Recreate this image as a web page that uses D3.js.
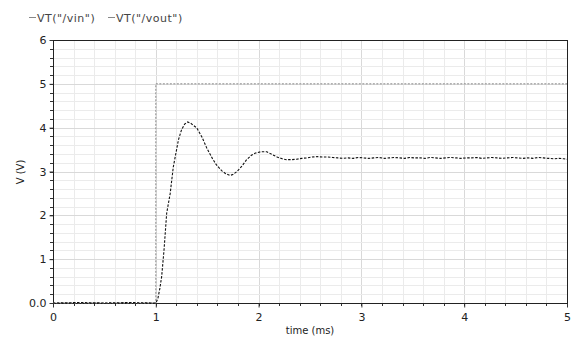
<!DOCTYPE html>
<html><head><meta charset="utf-8">
<script src="https://cdn.jsdelivr.net/npm/d3@7"></script>
<style>body{margin:0;background:#fff}svg{display:block}text{font-family:"DejaVu Sans",Verdana,sans-serif}</style>
</head><body><svg id="c" width="572" height="339"></svg>
<script>
const seriesNames = ['VT("/vin")', 'VT("/vout")'];
const xTicks = [0, 1, 2, 3, 4, 5];
const yTicks = [0, 1, 2, 3, 4, 5, 6];
const yTickLabels = ["0.0", "1", "2", "3", "4", "5", "6"];
const vinT = [0, 1.0, 1.0, 5];
const vinV = [0, 0, 5, 5];
const voutT = [0,0.25,0.5,0.75,1.0,1.02,1.04,1.057,1.08,1.106,1.14,1.17,1.22,1.25,1.28,1.31,1.34,1.40,1.45,1.495,1.55,1.59,1.64,1.68,1.72,1.75,1.79,1.84,1.88,1.93,1.97,2.02,2.08,2.13,2.18,2.23,2.27,2.32,2.37,2.42,2.47,2.52,2.57,2.62,2.67,2.72,2.77,2.82,
 2.87,2.92,2.97,3.02,3.07,3.12,3.17,3.22,3.27,3.32,3.37,3.42,3.47,3.52,3.57,3.62,3.67,3.72,3.77,3.82,3.87,3.92,3.97,4.02,4.07,4.12,4.17,4.22,4.27,4.32,4.37,4.42,4.47,4.52,4.57,4.62,4.67,4.72,4.77,4.82,4.87,4.92,4.97,5.0];
const voutV = [0,0.01,0,0.01,0,0.1,0.34,0.6,1.21,2.05,2.5,3.1,3.72,3.95,4.08,4.13,4.1,3.99,3.78,3.54,3.3,3.15,3.02,2.95,2.91,2.93,3.0,3.13,3.26,3.37,3.42,3.45,3.45,3.39,3.33,3.29,3.27,3.27,3.28,3.30,3.31,3.33,3.34,3.33,3.33,3.32,3.31,3.30,
 3.31,3.30,3.32,3.31,3.30,3.31,3.32,3.30,3.31,3.32,3.31,3.30,3.32,3.31,3.31,3.30,3.32,3.31,3.30,3.31,3.32,3.31,3.30,3.31,3.31,3.32,3.30,3.31,3.32,3.31,3.30,3.31,3.32,3.31,3.30,3.31,3.30,3.32,3.31,3.30,3.29,3.30,3.29,3.28];

const svg = d3.select("#c");
const L = 53, R = 567, T = 40, B = 303;
const x = d3.scaleLinear().domain([0, 5]).range([L, R]);
const y = d3.scaleLinear().domain([0, 6]).range([B, T]);
const xMinor = d3.range(0, 5.001, 0.2);
const yMinor = d3.range(0, 6.001, 0.2);

const g = svg.append("g");
g.selectAll(".vx").data(xMinor).join("line")
  .attr("x1", d => Math.round(x(d)) + 0.5).attr("x2", d => Math.round(x(d)) + 0.5)
  .attr("y1", T).attr("y2", B).attr("stroke", (d) => Math.abs(d - Math.round(d)) < 1e-6 ? "#d9d9d9" : "#ebebeb");
g.selectAll(".hy").data(yMinor).join("line")
  .attr("y1", d => Math.round(y(d)) + 0.5).attr("y2", d => Math.round(y(d)) + 0.5)
  .attr("x1", L).attr("x2", R).attr("stroke", (d) => Math.abs(d - Math.round(d)) < 1e-6 ? "#d9d9d9" : "#ebebeb");

// minor ticks
g.selectAll(".mtx").data(xMinor).join("line")
  .attr("x1", d => Math.round(x(d)) + 0.5).attr("x2", d => Math.round(x(d)) + 0.5)
  .attr("y1", B).attr("y2", B + 3).attr("stroke", "#333");
g.selectAll(".mty").data(yMinor).join("line")
  .attr("y1", d => Math.round(y(d)) + 0.5).attr("y2", d => Math.round(y(d)) + 0.5)
  .attr("x1", L - 3).attr("x2", L).attr("stroke", "#333");

const xAxis = svg.append("g").attr("transform", `translate(0,${B + 0.5})`)
  .call(d3.axisBottom(x).tickValues(xTicks).tickFormat(d3.format("d")).tickSize(4).tickPadding(6));
const yAxis = svg.append("g").attr("transform", `translate(${L + 0.5},0)`)
  .call(d3.axisLeft(y).tickValues(yTicks).tickFormat((d, i) => yTickLabels[i]).tickSize(4).tickPadding(3));
[xAxis, yAxis].forEach(a => {
  a.select(".domain").remove();
  a.selectAll("text").attr("font-size", 11).attr("fill", "#222").style("font-family", '"DejaVu Sans",Verdana,sans-serif');
  a.selectAll("line").attr("stroke", "#333");
});
// frame
svg.append("rect").attr("x", L + 0.5).attr("y", T + 0.5).attr("width", R - L).attr("height", B - T)
  .attr("fill", "none").attr("stroke", "#222");

const line = d3.line().x(d => x(d[0])).y(d => y(d[1]));
const vin = vinT.map((t, i) => [t, vinV[i]]);
const vout = voutT.map((t, i) => [t, voutV[i]]);
svg.append("path").attr("d", line(vin)).attr("fill", "none").attr("stroke", "#8a8a8a")
  .attr("stroke-width", 1).attr("stroke-dasharray", "2,1.5");
svg.append("path").attr("d", line(vout)).attr("fill", "none").attr("stroke", "#111")
  .attr("stroke-width", 1.1).attr("stroke-dasharray", "2.5,1.5");

// legend
const lg = svg.append("g").attr("font-size", 11).attr("fill", "#444");
const legX = [29, 108];
seriesNames.forEach((n, i) => {
  lg.append("line").attr("x1", legX[i]).attr("x2", legX[i] + 7).attr("y1", 17.5).attr("y2", 17.5).attr("stroke", "#888");
  lg.append("text").attr("x", legX[i] + 8).attr("y", 22).attr("letter-spacing", 0.5).text(n);
});

svg.append("text").attr("x", 310).attr("y", 334).attr("text-anchor", "middle").attr("font-size", 10).attr("fill", "#222").text("time (ms)");
svg.append("text").attr("transform", "translate(24,172) rotate(-90)").attr("text-anchor", "middle").attr("font-size", 10).attr("fill", "#222").text("V (V)");
</script></body></html>
